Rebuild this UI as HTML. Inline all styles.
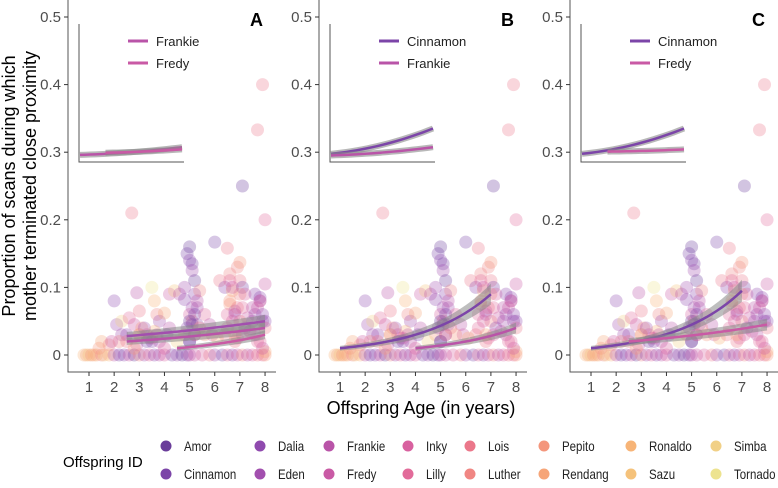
<!DOCTYPE html>
<html><head><meta charset="utf-8"><style>
body{margin:0;background:#fff;}
svg text{font-family:"Liberation Sans",sans-serif;}
</style></head><body>
<svg id="c" width="778" height="483" xmlns="http://www.w3.org/2000/svg"></svg>
<script>
const ids=["Amor","Cinnamon","Dalia","Eden","Frankie","Fredy","Inky","Lilly","Lois","Luther","Pepito","Rendang","Ronaldo","Sazu","Simba","Tornado"];
const cols=["#6a3d9a","#7c45a8","#8f4aae","#a24fae","#b954a8","#c95aa5","#d8619f","#e26b9a","#eb778a","#f08683","#f4967c","#f6a578","#f7b477","#f5c27b","#f1d086","#ede38f"];
const ages=[0.8,0.9,1.0,1.1,1.2,1.3,1.5,1.6,1.8,2.0,2.2,2.4,2.6,2.8,3.0,3.2,3.4,3.6,3.8,4.0,4.3,4.5,4.7,4.9,5.0,5.2,5.5,5.8,6.0,6.3,6.5,6.7,6.9,7.1,7.3,7.5,7.7,7.9,8.0,
2.0,2.1,2.3,2.5,2.6,2.8,2.9,3.0,3.1,3.3,3.5,3.6,3.7,3.8,4.0,4.2,4.4,4.6,4.8,4.9,5.0,5.0,5.1,5.1,5.2,5.2,5.3,5.0,5.1,5.4,5.6,5.8,6.0,6.2,6.4,6.5,6.6,6.6,6.7,6.8,6.9,7.0,7.0,7.1,7.1,7.2,7.3,7.5,7.6,7.7,7.8,7.9,8.0,8.0,7.8,7.1,2.7,1.5,1.8,2.3,3.6,4.2,4.8,5.3,5.9,6.5,6.8,7.0,7.4,7.9,3.0,3.4,4.5,5.6,6.9,7.2,2.2,2.9,3.8,6.1,6.4,7.6,8.0,1.4,1.9,3.5,4.1,5.0,5.2,
5.0,5.1,5.2,4.9,5.3,5.0,5.1,4.8,5.2,5.4,
6.5,6.6,6.7,6.8,6.9,7.0,6.6,6.7,6.8,7.1,
7.5,7.7,7.8,7.9,8.0,7.6,7.8,8.0,7.9,7.7,
3.0,3.2,3.5,3.7,4.0,2.5,2.8,3.3,3.9,4.3];
const vals=[0,0,0,0,0,0,0,0,0,0,0,0,0,0,0,0,0,0,0,0,0,0,0,0,0,0,0,0,0,0,0,0,0,0,0,0,0,0,0,
0.08,0.045,0.05,0.03,0.055,0.045,0.092,0.065,0.04,0.03,0.1,0.08,0.06,0.05,0.062,0.09,0.095,0.09,0.082,0.15,0.16,0.14,0.135,0.125,0.09,0.11,0.07,0.06,0.05,0.095,0.06,0.045,0.167,0.11,0.1,0.158,0.075,0.12,0.095,0.065,0.13,0.137,0.11,0.1,0.07,0.09,0.055,0.07,0.09,0.333,0.08,0.4,0.2,0.105,0.085,0.25,0.21,0.02,0.015,0.03,0.035,0.04,0.03,0.045,0.03,0.04,0.02,0.05,0.035,0.05,0.03,0.025,0.02,0.03,0.025,0.04,0.02,0.015,0.02,0.025,0.03,0.06,0.005,0.01,0.02,0.025,0.03,0.02,
0.03,0.05,0.07,0.06,0.04,0.08,0.02,0.045,0.1,0.03,
0.04,0.06,0.08,0.05,0.03,0.07,0.09,0.11,0.1,0.06,
0.03,0.05,0.07,0.02,0.06,0.04,0.03,0.08,0.05,0.01,
0.02,0.03,0.04,0.02,0.03,0.01,0.02,0.01,0.02,0.015];
const who=[12,11,13,10,12,11,9,13,12,4,1,2,5,0,9,3,7,2,4,6,1,3,0,2,4,5,6,8,3,1,7,2,5,9,4,6,8,7,10,
2,3,14,2,7,5,4,8,10,6,15,12,9,3,11,5,13,4,2,1,0,2,1,3,2,0,3,6,8,9,7,4,1,8,2,8,10,9,11,3,9,10,8,1,7,6,5,4,2,8,3,8,7,5,2,0,8,11,9,3,12,4,10,2,5,7,8,9,6,3,13,6,14,10,7,2,9,5,4,12,8,3,11,10,5,7,1,
1,2,0,3,1,2,4,0,1,3,
8,9,7,10,6,11,8,9,7,5,
4,6,3,5,7,2,8,4,6,2,
5,7,9,3,2,4,6,8,10,1];
const lineStart=[[2.5,2.5,4.5],[1,4],[1,2.5]];
const lineEnd=[[8,8,8],[7,8],[7,8]];
const lineV0=[[0.028,0.02,0.01],[0.01,0.01],[0.01,0.02]];
const lineV1=[[0.05,0.04,0.03],[0.09,0.04],[0.095,0.045]];
const lineCol=[[3,4,5],[1,4],[1,5]];
const yTicks=[0,0.1,0.2,0.3,0.4,0.5];
const xTicks=[1,2,3,4,5,6,7,8];
const insetNames=[["Frankie","Fredy"],["Cinnamon","Frankie"],["Cinnamon","Fredy"]];
const insetCols=[[4,5],[1,4],[1,5]];
const insetS=[[0,0.25],[0,0],[0,0.25]];
const insetV0=[[0.01,0.03],[0.02,0.005],[0.02,0.04]];
const insetV1=[[0.08,0.06],[0.25,0.08],[0.25,0.06]];
const labels=["A","B","C"];
const NS="http://www.w3.org/2000/svg";
const svg=document.getElementById('c');
function el(t,a,p){const e=document.createElementNS(NS,t);for(const k in a)e.setAttribute(k,a[k]);(p||svg).appendChild(e);return e;}
function squeeze(t,f){try{const w=t.getComputedTextLength();if(w>0){t.setAttribute('textLength',(w*f).toFixed(1));t.setAttribute('lengthAdjust','spacingAndGlyphs');}}catch(e){}}
const N=Math.min(ages.length,vals.length,who.length);
for(let p=0;p<3;p++){
 const off=p*251;
 const X=a=>off+89+(a-1)*25.15;
 const Y=v=>355-v*676;
 const g=el('g',{});
 
 
 const ax=el('path',{d:`M${off+68} 0V372H${off+276}`,stroke:'#555',fill:'none','stroke-width':1},g);
 
 
 yTicks.forEach(v=>{
  el('line',{x1:off+64,x2:off+68,y1:Y(v),y2:Y(v),stroke:'#333'},g);
  const t=el('text',{x:off+61,y:Y(v)+5,'text-anchor':'end','font-size':15,fill:'#4d4d4d'},g);t.textContent=v===0?'0':v.toFixed(1);
  
  
 });
 xTicks.forEach(v=>{
  el('line',{x1:X(v),x2:X(v),y1:372,y2:376,stroke:'#333'},g);
  const t=el('text',{x:X(v),y:392,'text-anchor':'middle','font-size':15,fill:'#4d4d4d'},g);t.textContent=v;
  
  
 });
 for(let i=0;i<N;i++){
  const w=who[i];
  const c=el('circle',{cx:X(ages[i]),cy:Y(vals[i]),r:6.5,fill:cols[w],'fill-opacity':0.3},g);
  
  
 }
 for(let j=0;j<lineStart[p].length;j++){
  const a0=lineStart[p][j],a1=lineEnd[p][j],v0=lineV0[p][j],v1=lineV1[p][j];
  const k=Math.log(v1/v0);let d='',up='',lo='';
  for(let s=0;s<=30;s++){const f=s/30,a=a0+(a1-a0)*f,v=v0*Math.exp(k*f);d+=(s?'L':'M')+X(a)+' '+Y(v);up+=(s?'L':'M')+X(a)+' '+Y(v*1.15+0.002);lo='L'+X(a)+' '+Y(v*0.85-0.002)+lo;}
  const b=el('path',{d:up+lo+'Z',fill:'#888','fill-opacity':0.55},g);
  
  
  const l=el('path',{d,stroke:cols[lineCol[p][j]],'stroke-width':2.5,fill:'none'},g);
  
  
 }
 const ix=v=>off+80+v*102, iy=v=>156-v*110;
 const ia=el('path',{d:`M${off+79} 24V162H${off+184}`,stroke:'#555',fill:'none'},g);
 
 
 for(let j=0;j<2;j++){
  const s0=insetS[p][j],v0=insetV0[p][j],v1=insetV1[p][j];let d='';
  for(let s=0;s<=20;s++){const f=s/20,a=s0+(1-s0)*f,v=v0+(v1-v0)*f*f*0.6+(v1-v0)*f*0.4;d+=(s?'L':'M')+ix(a)+' '+iy(v);}
  el('path',{d,stroke:'#888','stroke-width':6,fill:'none','stroke-opacity':0.6},g);
  const l=el('path',{d,stroke:cols[insetCols[p][j]],'stroke-width':2.5,fill:'none'},g);
  
  
  const ll=el('line',{x1:off+128,x2:off+148,y1:41+j*22,y2:41+j*22,stroke:cols[insetCols[p][j]],'stroke-width':3},g);
  
  
  const t=el('text',{x:off+156,y:46+j*22,'font-size':13,fill:'#222'},g);t.textContent=insetNames[p][j];
  
  
 }
 const lab=el('text',{x:off+263,y:26,'text-anchor':'end','font-size':18,'font-weight':'bold',fill:'#000'},g);lab.textContent=labels[p];
 
 
}
const yt=el('text',{transform:'translate(15,186) rotate(-90)','text-anchor':'middle','font-size':18,fill:'#000'});
yt.innerHTML='<tspan x="0" dy="0">Proportion of scans during which</tspan><tspan x="0" dy="21">mother terminated close proximity</tspan>';


const xt=el('text',{x:421,y:414,'text-anchor':'middle','font-size':18,fill:'#000'});xt.textContent='Offspring Age (in years)';


const lt=el('text',{x:63,y:467,'font-size':15,fill:'#000'});lt.textContent='Offspring ID';


const lx=[166,260,329,408,470,544,631,716];
ids.forEach((n,i)=>{
 const cx=lx[Math.floor(i/2)],cy=i%2?474:446;
 const c=el('circle',{cx,cy,r:5.5,fill:cols[i]});
 
 
 const t=el('text',{x:cx+18,y:cy+5,'font-size':14,fill:'#222'});t.textContent=n;
 
 
 squeeze(t,0.82);
});
</script>
</body></html>
